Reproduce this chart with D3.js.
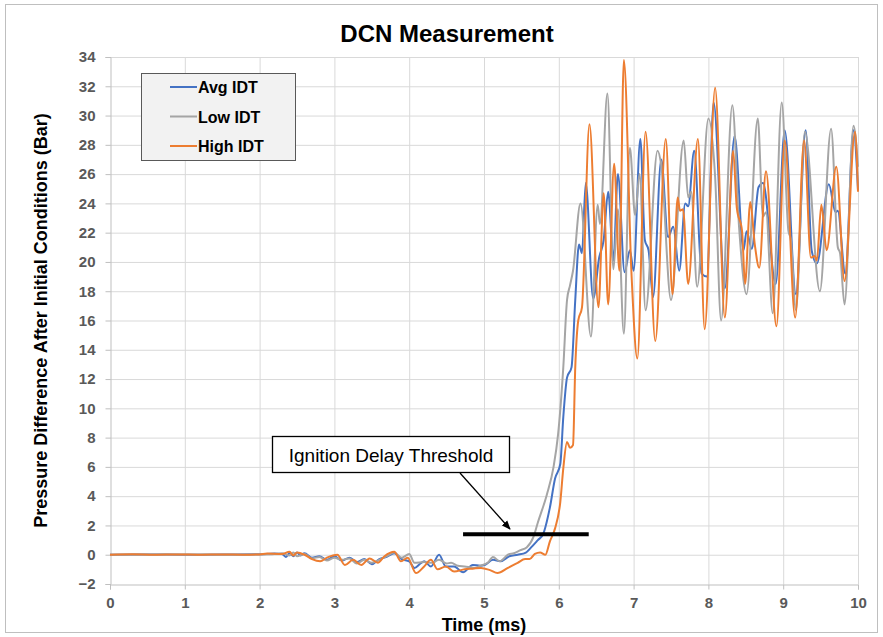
<!DOCTYPE html>
<html>
<head>
<meta charset="utf-8">
<script src="https://cdn.jsdelivr.net/npm/d3@7"></script>
<style>
  body { margin: 0; background: #fff; }
  text { font-family: "Liberation Sans", Arial, sans-serif; }
</style>
</head>
<body>
<div id="chart"></div>
<script>
// values: [time (ms), pressure difference (bar)]
const avgIDT = [
  [0,0],[0.5,0.02],[1,0],[1.5,0.01],[2,0.03],[2.2,0.08],[2.3,0.05],[2.35,-0.15],[2.4,0.1],
  [2.45,-0.1],[2.5,0.15],[2.55,-0.05],[2.6,0.1],[2.7,-0.2],[2.8,-0.1],[2.9,-0.35],[3.0,-0.1],
  [3.1,-0.4],[3.2,-0.2],[3.3,-0.5],[3.4,-0.3],[3.5,-0.65],[3.6,-0.3],[3.7,-0.15],[3.8,0.1],
  [3.9,-0.3],[4.0,-0.45],[4.07,-0.9],[4.15,-0.6],[4.2,-0.45],[4.29,-0.8],[4.4,0.0],[4.49,-0.8],
  [4.6,-0.8],[4.72,-1.2],[4.85,-0.7],[4.95,-0.75],[5.01,-0.7],[5.12,-0.35],[5.22,-0.45],
  [5.34,-0.1],[5.45,0.0],[5.56,0.15],[5.63,0.5],[5.72,1.0],[5.79,1.4],[5.88,3.2],[5.95,5.2],
  [6.02,6.2],[6.06,9.4],[6.11,12.1],[6.17,12.8],[6.22,17.4],[6.27,21.2],[6.31,20.6],[6.36,25.4],
  [6.46,17.5],[6.54,20.3],[6.60,21.5],[6.66,24.8],[6.73,20.1],[6.79,26.0],[6.88,19.3],[6.95,20.8],
  [7.0,19.4],[7.09,28.4],[7.15,21.5],[7.20,20.8],[7.26,17.6],[7.37,27.0],[7.46,21.7],[7.53,22.4],
  [7.61,19.4],[7.69,24.0],[7.73,23.8],[7.81,27.6],[7.91,19.2],[7.98,19.0],[8.07,30.9],[8.22,18.2],
  [8.35,28.6],[8.47,20.8],[8.51,22.1],[8.58,20.9],[8.67,25.1],[8.73,25.4],[8.90,18.5],[9.02,29.0],
  [9.17,17.8],[9.30,29.0],[9.38,20.8],[9.45,19.9],[9.61,25.3],[9.70,23.4],[9.73,23.5],[9.83,19.2],
  [9.94,29.0],[10,24.9]
];

const lowIDT = [
  [0,0],[0.5,0.01],[1,0.02],[1.5,0],[2,0.02],[2.2,0.05],[2.3,0.1],[2.4,-0.05],[2.45,0.15],
  [2.5,-0.1],[2.6,0.05],[2.7,-0.25],[2.8,-0.15],[2.9,-0.4],[3.0,-0.2],[3.1,-0.35],[3.2,-0.25],
  [3.3,-0.6],[3.4,-0.35],[3.5,-0.55],[3.6,-0.35],[3.7,-0.1],[3.8,0.15],[3.9,-0.2],[4.0,0.05],
  [4.07,-0.55],[4.2,-0.5],[4.3,-0.55],[4.4,-0.35],[4.5,-0.6],[4.56,-0.55],[4.65,-0.75],[4.74,-0.8],
  [4.87,-0.9],[4.95,-0.75],[5.05,-0.55],[5.12,-0.15],[5.21,-0.45],[5.32,0.0],[5.4,0.1],[5.48,0.3],
  [5.57,0.5],[5.66,1.2],[5.72,2.2],[5.84,4.1],[5.93,6.0],[5.99,8.2],[6.06,12.8],[6.11,17.4],
  [6.15,18.4],[6.19,19.4],[6.29,24.0],[6.43,14.9],[6.52,23.9],[6.55,22.6],[6.65,31.5],[6.73,19.5],
  [6.79,23.6],[6.87,15.1],[6.95,27.8],[7.02,23.2],[7.08,26.0],[7.16,16.7],[7.32,27.6],[7.37,26.6],
  [7.50,17.4],[7.67,28.3],[7.73,24.4],[7.77,24.8],[7.85,18.3],[8.0,29.8],[8.09,25.8],[8.17,16.0],
  [8.32,30.7],[8.41,22.4],[8.51,17.8],[8.66,29.8],[8.73,23.1],[8.77,23.4],[8.86,16.5],[8.98,30.9],
  [9.07,22.1],[9.10,21.6],[9.17,16.7],[9.29,28.9],[9.49,18.0],[9.64,29.1],[9.73,21.0],[9.76,20.6],
  [9.82,17.1],[9.94,29.3],[10,26.5]
];

const highIDT = [
  [0,0],[0.3,0.03],[0.6,0],[0.9,0.02],[1.2,0],[1.5,0.02],[1.8,0],[2.0,0.02],[2.1,0.08],[2.3,0.05],
  [2.4,0.2],[2.45,-0.05],[2.5,0.15],[2.6,0.0],[2.7,-0.3],[2.81,-0.45],[2.9,-0.2],[3.04,0.0],
  [3.14,-0.7],[3.25,-0.35],[3.36,-0.7],[3.47,-0.25],[3.58,-0.55],[3.67,-0.1],[3.8,0.2],[3.89,-0.45],
  [3.98,-0.2],[4.09,-1.25],[4.2,-0.8],[4.29,-0.35],[4.38,-1.0],[4.49,-0.8],[4.6,-1.15],[4.74,-1.0],
  [4.85,-0.95],[4.96,-0.9],[5.08,-1.05],[5.18,-1.25],[5.32,-0.9],[5.45,-0.55],[5.55,-0.3],
  [5.61,-0.3],[5.68,0.05],[5.75,0.15],[5.82,0.0],[5.88,0.9],[5.95,1.8],[6.02,3.6],[6.06,5.9],
  [6.11,7.7],[6.15,7.3],[6.19,7.5],[6.22,12.8],[6.26,16.0],[6.31,16.9],[6.41,29.4],[6.53,16.9],
  [6.60,24.7],[6.66,17.1],[6.74,26.7],[6.81,19.4],[6.87,33.8],[6.97,19.4],[7.05,13.4],[7.16,28.9],
  [7.29,14.6],[7.43,28.4],[7.52,17.8],[7.59,24.4],[7.62,23.5],[7.66,23.6],[7.73,18.5],[7.86,28.4],
  [7.95,15.4],[8.09,31.9],[8.22,16.2],[8.33,27.6],[8.38,23.7],[8.45,22.1],[8.49,18.5],[8.56,24.1],
  [8.62,21.2],[8.68,19.6],[8.77,26.2],[8.91,15.6],[9.02,28.3],[9.16,16.2],[9.28,28.3],[9.37,20.3],
  [9.42,20.4],[9.45,20.1],[9.51,23.9],[9.58,20.8],[9.71,26.5],[9.82,18.7],[9.96,28.9],[10,24.8]
];

const seriesNames = ['Avg IDT', 'Low IDT', 'High IDT'];
const seriesColors = ['#4472C4', '#A5A5A5', '#ED7D31'];
const xTicks = d3.range(0, 11, 1);
const yTicks = d3.range(-2, 35, 2);
const threshold = {value: 1.4, from: 4.72, to: 6.4};

const width = 883;
const height = 637;
const margin = {top: 57, bottom: 53, left: 110, right: 25};

const svg = d3.select('#chart')
    .append('svg')
    .attr('width', width)
    .attr('height', height);

// chart frame
svg.append('rect')
    .attr('x', 5.5).attr('y', 4.5)
    .attr('width', 872).attr('height', 628)
    .attr('fill', '#fff')
    .attr('stroke', '#bfbfbf');

const x = d3.scaleLinear()
    .domain([0, 10])
    .range([margin.left, width - margin.right]);

const y = d3.scaleLinear()
    .domain([-2, 34])
    .range([height - margin.bottom, margin.top]);

// gridlines
svg.append('g')
    .selectAll('line')
    .data(yTicks.slice(1))
    .join('line')
    .attr('x1', x(0)).attr('x2', x(10))
    .attr('y1', d => y(d) + 0.5).attr('y2', d => y(d) + 0.5)
    .attr('stroke', '#d9d9d9');

svg.append('g')
    .selectAll('line')
    .data(xTicks.slice(1))
    .join('line')
    .attr('x1', d => x(d) + 0.5).attr('x2', d => x(d) + 0.5)
    .attr('y1', y(34)).attr('y2', y(-2))
    .attr('stroke', '#d9d9d9');

function xAxis(g) {
    g.attr('transform', `translate(0,${y(-2) + 0.5})`)
        .call(d3.axisBottom(x).tickValues(xTicks).tickSize(5).tickPadding(8).tickFormat(d3.format('d')))
        .call(g => g.select('.domain').attr('stroke', '#bfbfbf'))
        .call(g => g.selectAll('.tick line').attr('stroke', '#bfbfbf'))
        .call(g => g.selectAll('.tick text')
            .attr('fill', '#595959')
            .attr('font-size', '15px')
            .attr('font-weight', 'bold'));
}

function yAxis(g) {
    g.attr('transform', `translate(${x(0) + 0.5},0)`)
        .call(d3.axisLeft(y).tickValues(yTicks).tickSize(5).tickPadding(10))
        .call(g => g.select('.domain').attr('stroke', '#bfbfbf'))
        .call(g => g.selectAll('.tick line').attr('stroke', '#bfbfbf'))
        .call(g => g.selectAll('.tick text')
            .attr('fill', '#595959')
            .attr('font-size', '15px')
            .attr('font-weight', 'bold'));
}

svg.append('g').call(xAxis);
svg.append('g').call(yAxis);

// series
const line = d3.line()
    .x(d => x(d[0]))
    .y(d => y(d[1]))
    .curve(d3.curveMonotoneX);

[avgIDT, lowIDT, highIDT].forEach((data, i) => {
    svg.append('path')
        .datum(data)
        .attr('fill', 'none')
        .attr('stroke', seriesColors[i])
        .attr('stroke-width', 2)
        .attr('stroke-linejoin', 'round')
        .attr('d', line);
});

// threshold bar
svg.append('line')
    .attr('x1', x(threshold.from)).attr('x2', x(threshold.to))
    .attr('y1', y(threshold.value)).attr('y2', y(threshold.value))
    .attr('stroke', '#000')
    .attr('stroke-width', 4);

// callout
svg.append('defs').append('marker')
    .attr('id', 'arrow')
    .attr('viewBox', '0 0 10 10')
    .attr('refX', 9).attr('refY', 5)
    .attr('markerWidth', 7).attr('markerHeight', 7)
    .attr('orient', 'auto')
    .append('path')
    .attr('d', 'M0,1 L10,5 L0,9 Z')
    .attr('fill', '#000');

svg.append('line')
    .attr('x1', 460).attr('y1', 473)
    .attr('x2', 510).attr('y2', 529)
    .attr('stroke', '#000')
    .attr('stroke-width', 1.3)
    .attr('marker-end', 'url(#arrow)');

svg.append('rect')
    .attr('x', 272.5).attr('y', 436.5)
    .attr('width', 237).attr('height', 36)
    .attr('fill', '#fff')
    .attr('stroke', '#000')
    .attr('stroke-width', 1.3);

svg.append('text')
    .attr('x', 391).attr('y', 462)
    .attr('text-anchor', 'middle')
    .attr('font-size', '19px')
    .attr('fill', '#000')
    .text('Ignition Delay Threshold');

// legend
const legend = svg.append('g');
legend.append('rect')
    .attr('x', 141.5).attr('y', 73.5)
    .attr('width', 154).attr('height', 87)
    .attr('fill', '#f2f2f2')
    .attr('stroke', '#595959');

seriesNames.forEach((name, i) => {
    const ly = 87 + i * 29.5;
    legend.append('line')
        .attr('x1', 170).attr('x2', 197)
        .attr('y1', ly).attr('y2', ly)
        .attr('stroke', seriesColors[i])
        .attr('stroke-width', 2);
    legend.append('text')
        .attr('x', 198).attr('y', ly + 6)
        .attr('font-size', '16px')
        .attr('font-weight', 'bold')
        .attr('fill', '#000')
        .text(name);
});

// titles
svg.append('text')
    .attr('x', 447).attr('y', 42)
    .attr('text-anchor', 'middle')
    .attr('font-size', '24px')
    .attr('font-weight', 'bold')
    .attr('fill', '#000')
    .text('DCN Measurement');

svg.append('text')
    .attr('x', (x(0) + x(10)) / 2).attr('y', 631)
    .attr('text-anchor', 'middle')
    .attr('font-size', '18px')
    .attr('font-weight', 'bold')
    .attr('fill', '#000')
    .text('Time (ms)');

svg.append('text')
    .attr('transform', `translate(47,${(y(34) + y(-2)) / 2}) rotate(-90)`)
    .attr('text-anchor', 'middle')
    .attr('font-size', '18px')
    .attr('font-weight', 'bold')
    .attr('fill', '#000')
    .text('Pressure Difference After Initial Conditions  (Bar)');
</script>
</body>
</html>
